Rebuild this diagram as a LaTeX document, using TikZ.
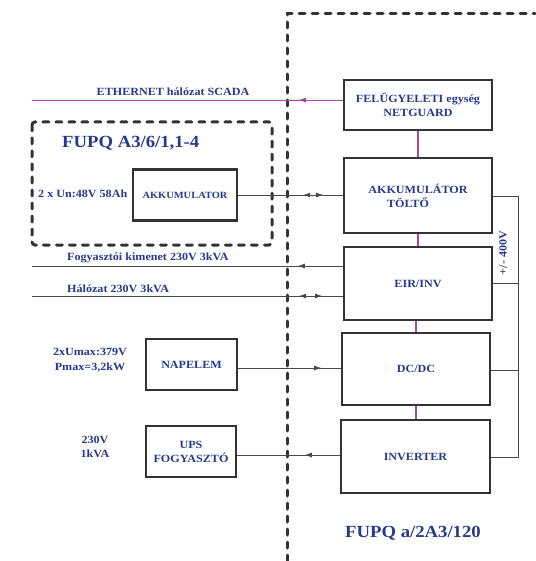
\documentclass[tikz,border=0pt]{standalone}
\usepackage{fontspec}
\setmainfont[FakeStretch=1.1]{Liberation Serif}
\usetikzlibrary{arrows.meta,decorations.markings}
\definecolor{labblue}{HTML}{283A8E}
\definecolor{boxgray}{HTML}{333333}
\definecolor{linegray}{HTML}{4A4A4A}
\definecolor{purp}{HTML}{9C4E9C}
\tikzset{
  box/.style={draw=boxgray, line width=2.4pt, fill=white, align=center,
    text=labblue, inner sep=0pt, font=\bfseries\fontsize{11}{14}\selectfont},
  lbl/.style={text=labblue, inner sep=0pt, align=center,
    font=\bfseries\fontsize{11}{14.5}\selectfont},
  ttl/.style={text=labblue, inner sep=0pt, font=\bfseries\fontsize{17}{20}\selectfont},
  conn/.style={draw=linegray, line width=0.8pt},
  ethline/.style={draw=purp, line width=0.8pt},
  vlink/.style={draw=purp, line width=1.3pt},
  border/.style={draw=boxgray, line width=3pt, line cap=round, dash pattern=on 6pt off 7pt},
  tipfwd/.style={postaction={decorate}, decoration={markings,
    mark=at position #1 with {\arrow{Latex[length=7pt,width=5pt]}}}},
  tipboth/.style 2 args={postaction={decorate}, decoration={markings,
    mark=at position #1 with {\arrowreversed{Latex[length=7pt,width=5pt]}},
    mark=at position #2 with {\arrow{Latex[length=7pt,width=5pt]}}}},
}
\begin{document}
\begin{tikzpicture}[x=1pt,y=-1pt]
\useasboundingbox[fill=white] (0,0) rectangle (535,561);

% dashed enclosures
\draw[border] (287,561) -- (287,14) -- (535,14);
\draw[border, rounded corners=3pt] (32,122) rectangle (272,245);

% titles
\node[ttl, anchor=west] (t1) at (62,143) {FUPQ A3/6/1,1-4};
\node[ttl] (t2) at (413,533) {FUPQ a/2A3/120};

% main boxes
\node[box, minimum width=148pt, minimum height=50pt] (felu) at (418,105) {FELÜGYELETI egység\\NETGUARD};
\node[box, minimum width=148pt, minimum height=75pt] (tolto) at (418,195.5) {AKKUMULÁTOR\\\hspace*{-20pt}TÖLTŐ};
\node[box, minimum width=148pt, minimum height=73pt] (eir) at (418,283.5) {EIR/INV};
\node[box, minimum width=148pt, minimum height=72pt] (dcdc) at (416,369) {DC/DC};
\node[box, minimum width=149pt, minimum height=73pt] (inv) at (415.5,456.5) {INVERTER};

% left boxes
\node[box, minimum width=104pt, minimum height=51pt, font=\bfseries\fontsize{9.5}{12}\selectfont] (akku) at (185,195) {AKKUMULATOR};
\node[box, minimum width=91pt, minimum height=51pt] (nap) at (191.5,364.5) {NAPELEM};
\node[box, minimum width=90pt, minimum height=51pt] (ups) at (191,451.5) {UPS\\FOGYASZTÓ};

% vertical purple links
\draw[vlink] (felu.south) -- (felu.south |- tolto.north);
\draw[vlink] (tolto.south) -- (tolto.south |- eir.north);
\draw[vlink] (dcdc.north |- eir.south) -- (dcdc.north);
\draw[vlink] (dcdc.south) -- (dcdc.south |- inv.north);

% left free ends
\coordinate (eth) at (32,100);
\coordinate (fogy) at (32,266);
\coordinate (hal) at (32,296);

% connectors
\draw[ethline, tipfwd=44pt] (felu.west |- eth) -- (eth);
\draw[conn, tipboth={65pt}{85pt}] (akku.east) -- (tolto.west |- akku.east);
\draw[conn, tipfwd=45pt] (eir.west |- fogy) -- (fogy);
\draw[conn, tipboth={267pt}{290pt}] (hal) -- (eir.west |- hal);
\draw[conn, tipfwd=83pt] (nap.east |- 0,368) -- (dcdc.west |- 0,368);
\draw[conn, tipfwd=35pt] (inv.west |- 0,455) -- (ups.east |- 0,455);

% right DC bus
\coordinate (busT) at (518,196);
\coordinate (busE) at (518,283);
\coordinate (busD) at (518,370);
\coordinate (busB) at (518,457);
\draw[conn, line width=0.7pt] (tolto.east |- busT) -- (busT) -- (busB) -- (inv.east |- busB);
\draw[conn, line width=0.7pt] (eir.east |- busE) -- (busE);
\draw[conn, line width=0.7pt] (dcdc.east |- busD) -- (busD);
\node[lbl, rotate=90] (bus) at (503,253) {+/- 400V};

% labels
\node[lbl] (ethl) at (173,92) {ETHERNET hálózat SCADA};
\node[lbl, anchor=west] (akl) at (38,194) {2 x Un:48V 58Ah};
\node[lbl, anchor=west] (fogl) at (67,258) {Fogyasztói kimenet 230V 3kVA};
\node[lbl, anchor=west] (hall) at (67,289) {Hálózat 230V 3kVA};
\node[lbl] (napl) at (90,360) {2xUmax:379V\\Pmax=3,2kW};
\node[lbl] (upsl) at (95,447) {230V\\1kVA};
\end{tikzpicture}
\end{document}
